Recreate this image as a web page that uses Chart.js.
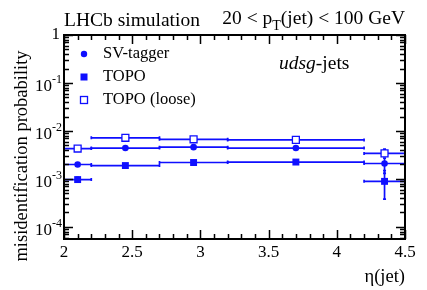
<!DOCTYPE html>
<html>
<head>
<meta charset="utf-8">
<script src="https://cdn.jsdelivr.net/npm/chart.js@4.4.1/dist/chart.umd.min.js"></script>
<style>
  html, body { margin: 0; padding: 0; background: #fff; }
  #wrap { width: 427px; height: 290px; }
</style>
</head>
<body>
<div id="wrap"><canvas id="myChart" width="427" height="290"></canvas></div>
<script>
// eta(jet) bins
const binCenter = [2.1, 2.45, 2.95, 3.7, 4.35];
const binLow = [2.0, 2.2, 2.7, 3.2, 4.2];
const binHigh = [2.2, 2.7, 3.2, 4.2, 4.5];

// misidentification probability per bin
const svTagger = [2.0e-3, 4.4e-3, 4.6e-3, 4.4e-3, 2.1e-3];
const svLow = [1.9e-3, 4.2e-3, 4.4e-3, 4.2e-3, 1.3e-3];
const svHigh = [2.1e-3, 4.6e-3, 4.8e-3, 4.6e-3, 2.7e-3];

const topo = [9.7e-4, 1.9e-3, 2.2e-3, 2.25e-3, 8.9e-4];
const topoLow = [8.6e-4, 1.8e-3, 2.1e-3, 2.15e-3, 3.8e-4];
const topoHigh = [1.08e-3, 2.0e-3, 2.3e-3, 2.35e-3, 1.5e-3];

const topoLoose = [4.3e-3, 7.2e-3, 6.7e-3, 6.5e-3, 3.4e-3];
const looseLow = [4.1e-3, 7.0e-3, 6.5e-3, 6.3e-3, 2.9e-3];
const looseHigh = [4.5e-3, 7.4e-3, 6.9e-3, 6.7e-3, 4.2e-3];

const xTicks = [2, 2.5, 3, 3.5, 4, 4.5];
const yDecades = [1, 0.1, 0.01, 0.001, 0.0001];
const yTickExp = ['', '-1', '-2', '-3', '-4'];

const blue = 'rgb(15,15,255)';
const serif = '"Liberation Serif", "DejaVu Serif", serif';

function makePoints(vals, lo, hi) {
  return binCenter.map((x, i) => ({ x: x, y: vals[i], xMin: binLow[i], xMax: binHigh[i], yMin: lo[i], yMax: hi[i] }));
}

const errorBars = {
  id: 'errorBars',
  beforeDatasetsDraw(chart) {
    const ctx = chart.ctx;
    const xs = chart.scales.x, ys = chart.scales.y;
    ctx.save();
    ctx.strokeStyle = blue;
    ctx.lineWidth = 1.7;
    chart.data.datasets.forEach(ds => {
      ds.data.forEach(p => {
        const px = xs.getPixelForValue(p.x), py = ys.getPixelForValue(p.y);
        const x0 = xs.getPixelForValue(p.xMin), x1 = xs.getPixelForValue(p.xMax);
        const y0 = ys.getPixelForValue(p.yMin), y1 = ys.getPixelForValue(p.yMax);
        ctx.beginPath();
        ctx.moveTo(x0, py); ctx.lineTo(x1, py);
        ctx.moveTo(px, y0); ctx.lineTo(px, y1);
        // little end marks
        ctx.moveTo(x0, py - 1.5); ctx.lineTo(x0, py + 1.5);
        ctx.moveTo(x1, py - 1.5); ctx.lineTo(x1, py + 1.5);
        ctx.moveTo(px - 1.5, y0); ctx.lineTo(px + 1.5, y0);
        ctx.moveTo(px - 1.5, y1); ctx.lineTo(px + 1.5, y1);
        ctx.stroke();
      });
    });
    ctx.restore();
  }
};

function supText(ctx, base, sup, xRight, y, size) {
  ctx.font = size + 'px ' + serif;
  const wb = ctx.measureText(base).width;
  ctx.font = Math.round(size * 0.72) + 'px ' + serif;
  const ws = ctx.measureText(sup).width;
  const x0 = xRight - wb - ws;
  ctx.textAlign = 'left';
  ctx.textBaseline = 'middle';
  ctx.font = size + 'px ' + serif;
  ctx.fillText(base, x0, y);
  ctx.font = Math.round(size * 0.72) + 'px ' + serif;
  ctx.fillText(sup, x0 + wb, y - size * 0.4);
}

const frame = {
  id: 'frame',
  afterDraw(chart) {
    const ctx = chart.ctx;
    const a = chart.chartArea;
    const xs = chart.scales.x, ys = chart.scales.y;
    ctx.save();
    ctx.strokeStyle = '#000';
    ctx.fillStyle = '#000';
    ctx.lineWidth = 1.5;

    // x ticks (bottom + top)
    ctx.beginPath();
    for (let k = 0; k <= 25; k++) {
      const v = 2 + k * 0.1;
      const px = Math.round(xs.getPixelForValue(v)) + 0.5;
      const len = (k % 5 === 0) ? 9 : 5;
      ctx.moveTo(px, a.bottom); ctx.lineTo(px, a.bottom - len);
      ctx.moveTo(px, a.top); ctx.lineTo(px, a.top + len);
    }
    // y ticks (left + right)
    for (let e = -5; e <= 0; e++) {
      for (let m = 1; m <= 9; m++) {
        const v = m * Math.pow(10, e);
        if (v < ys.min || v > ys.max) continue;
        const py = Math.round(ys.getPixelForValue(v)) + 0.5;
        const len = (m === 1) ? 9 : 5;
        ctx.moveTo(a.left, py); ctx.lineTo(a.left + len, py);
        ctx.moveTo(a.right, py); ctx.lineTo(a.right - len, py);
      }
    }
    ctx.stroke();

    ctx.lineWidth = 2;
    ctx.strokeRect(a.left, a.top, a.right - a.left, a.bottom - a.top);

    // x tick labels
    ctx.font = '17px ' + serif;
    ctx.textAlign = 'center';
    ctx.textBaseline = 'top';
    xTicks.forEach(v => {
      ctx.fillText(String(v), xs.getPixelForValue(v), a.bottom + 5);
    });

    // y tick labels
    yDecades.forEach((v, i) => {
      const py = ys.getPixelForValue(v);
      if (yTickExp[i] === '') {
        ctx.font = '17px ' + serif;
        ctx.textAlign = 'right';
        ctx.textBaseline = 'middle';
        ctx.fillText('1', a.left - 4, py);
      } else {
        supText(ctx, '10', yTickExp[i], a.left - 2, py + 4, 17);
      }
    });

    // axis titles
    ctx.font = '18.5px ' + serif;
    ctx.textAlign = 'right';
    ctx.textBaseline = 'alphabetic';
    ctx.fillText('\u03b7(jet)', a.right, 282);

    ctx.save();
    ctx.translate(27, 156);
    ctx.rotate(-Math.PI / 2);
    ctx.textAlign = 'center';
    ctx.fillText('misidentification probability', 0, 0);
    ctx.restore();

    // header
    ctx.font = '19.5px ' + serif;
    ctx.textAlign = 'left';
    ctx.fillText('LHCb simulation', 64, 26);

    // 20 < pT(jet) < 100 GeV, right aligned
    const partA = '20 < p', partSub = 'T', partB = '(jet) < 100 GeV';
    ctx.font = '19.5px ' + serif;
    const wA = ctx.measureText(partA).width, wB = ctx.measureText(partB).width;
    ctx.font = '14px ' + serif;
    const wS = ctx.measureText(partSub).width;
    let x0 = a.right - wA - wS - wB;
    ctx.font = '19.5px ' + serif;
    ctx.fillText(partA, x0, 24);
    ctx.font = '14px ' + serif;
    ctx.fillText(partSub, x0 + wA, 30);
    ctx.font = '19.5px ' + serif;
    ctx.fillText(partB, x0 + wA + wS, 24);

    // udsg-jets
    ctx.font = 'italic 19.5px ' + serif;
    const wI = ctx.measureText('udsg').width;
    ctx.fillText('udsg', 279, 69);
    ctx.font = '19.5px ' + serif;
    ctx.fillText('-jets', 279 + wI, 69);

    // legend
    const legY = [54, 77, 100];
    const legText = ['SV-tagger', 'TOPO', 'TOPO (loose)'];
    ctx.fillStyle = blue;
    ctx.strokeStyle = blue;
    ctx.beginPath();
    ctx.arc(84, legY[0], 3.2, 0, Math.PI * 2);
    ctx.fill();
    ctx.fillRect(80.5, legY[1] - 3.5, 7, 7);
    ctx.lineWidth = 1.3;
    ctx.strokeRect(80.5, legY[2] - 3.5, 7, 7);
    ctx.fillStyle = '#000';
    ctx.font = '16.5px ' + serif;
    ctx.textBaseline = 'middle';
    legText.forEach((t, i) => ctx.fillText(t, 103, legY[i]));

    ctx.restore();
  }
};

const ctx1 = document.getElementById('myChart').getContext('2d');
new Chart(ctx1, {
  type: 'scatter',
  data: {
    datasets: [
      {
        label: 'SV-tagger',
        data: makePoints(svTagger, svLow, svHigh),
        pointStyle: 'circle',
        pointRadius: 3.3,
        backgroundColor: blue,
        borderColor: blue,
        borderWidth: 0
      },
      {
        label: 'TOPO',
        data: makePoints(topo, topoLow, topoHigh),
        pointStyle: 'rect',
        pointRadius: 4.9,
        backgroundColor: blue,
        borderColor: blue,
        borderWidth: 0
      },
      {
        label: 'TOPO (loose)',
        data: makePoints(topoLoose, looseLow, looseHigh),
        pointStyle: 'rect',
        pointRadius: 4.9,
        backgroundColor: '#fff',
        borderColor: blue,
        borderWidth: 1.3
      }
    ]
  },
  options: {
    responsive: false,
    animation: false,
    layout: { padding: { left: 64, top: 35, right: 22, bottom: 51 } },
    plugins: { legend: { display: false }, tooltip: { enabled: false } },
    scales: {
      x: { type: 'linear', min: 2, max: 4.5, display: false },
      y: { type: 'logarithmic', min: 5.6e-5, max: 1, display: false }
    }
  },
  plugins: [errorBars, frame]
});
</script>
</body>
</html>
